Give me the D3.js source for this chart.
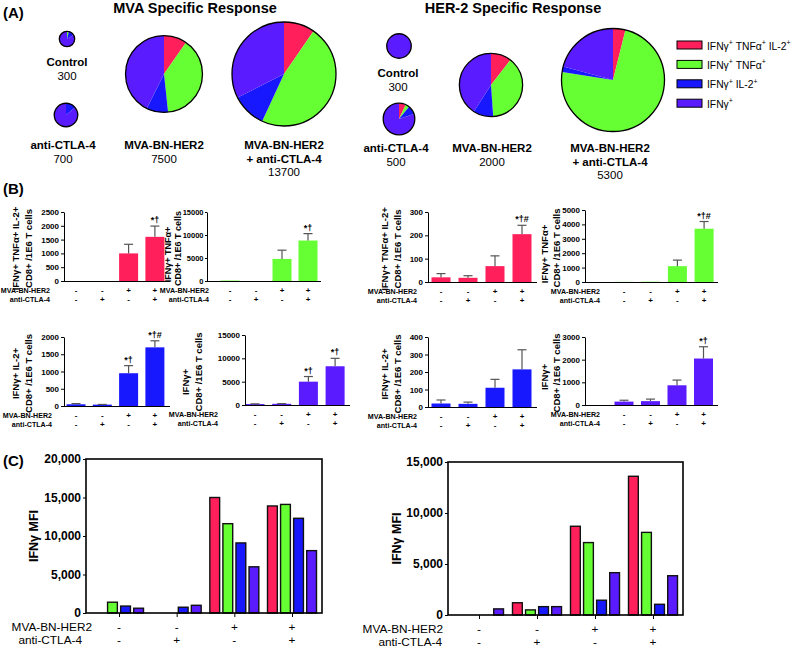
<!DOCTYPE html>
<html><head><meta charset="utf-8">
<script src="https://cdn.jsdelivr.net/npm/d3@7"></script>
<style>
body{margin:0;background:#fff}
svg{display:block}
text{font-family:"Liberation Sans",Arial,sans-serif}
</style>
</head><body>
<svg id="chart" width="793" height="650"></svg>
<script>
// ---------------- DATA ----------------
const seriesNames = ["IFNγ+ TNFα+ IL-2+", "IFNγ+ TNFα+", "IFNγ+ IL-2+", "IFNγ+"];
const seriesColors = ["#ff1f5a", "#66ff33", "#1818ff", "#5a1bff"];

// Panel A (pie shares in %, order = seriesNames)
const pieLabels = [["Control"], ["anti-CTLA-4"], ["MVA-BN-HER2"], ["MVA-BN-HER2", "+ anti-CTLA-4"]];
const mvaTotals = [300, 700, 7500, 13700];
const mvaShares = [[0, 4, 12, 84], [0, 0, 14, 86], [9.7, 38.6, 9.1, 42.6], [9.6, 47.3, 10.6, 32.5]];
const herTotals = [300, 500, 2000, 5300];
const herShares = [[0, 0, 0, 100], [7, 4, 9, 80], [10.5, 38.4, 10.2, 40.9], [3.9, 73.6, 1.7, 20.8]];

// Panel B
const mvaRow = ["-", "-", "+", "+"];
const ctlaRow = ["-", "+", "-", "+"];
const bMvaTriple = [0, 0, 1000, 1600];
const bMvaTripleErr = [0, 0, 1330, 1990];
const bMvaTripleSig = ["", "", "", "*†"];
const bMvaTnf = [100, 0, 4800, 8800];
const bMvaTnfErr = [0, 0, 6700, 10300];
const bMvaTnfSig = ["", "", "", "*†"];
const bHerTriple = [20, 18, 68, 205];
const bHerTripleErr = [36, 27, 112, 243];
const bHerTripleSig = ["", "", "", "*†#"];
const bHerTnf = [10, 20, 1100, 3700];
const bHerTnfErr = [0, 0, 1520, 4200];
const bHerTnfSig = ["", "", "", "*†#"];
const bMvaIl2 = [50, 40, 950, 1700];
const bMvaIl2Err = [70, 45, 1170, 1890];
const bMvaIl2Sig = ["", "", "*†", "*†#"];
const bMvaIfn = [200, 250, 5000, 8300];
const bMvaIfnErr = [250, 300, 6100, 10000];
const bMvaIfnSig = ["", "", "*†", "*†"];
const bHerIl2 = [20, 18, 110, 215];
const bHerIl2Err = [40, 28, 158, 327];
const bHerIl2Sig = ["", "", "", ""];
const bHerIfn = [150, 170, 870, 2050];
const bHerIfnErr = [210, 260, 1100, 2570];
const bHerIfnSig = ["", "", "", "*†"];

// Panel C (IFNγ MFI per group, one array per series)
const cMvaTriple = [0, 0, 15000, 13900];
const cMvaTnf = [1400, 0, 11600, 14100];
const cMvaIl2 = [900, 750, 9100, 12300];
const cMvaIfn = [620, 1000, 6000, 8100];
const cHerTriple = [0, 1200, 8700, 13600];
const cHerTnf = [0, 500, 7100, 8100];
const cHerIl2 = [0, 820, 1450, 1050];
const cHerIfn = [600, 820, 4150, 3850];

// ---------------- DRAW ----------------
const svg = d3.select("#chart");
const FONT = '"Liberation Sans",Arial,sans-serif';

function txt(x, y, s, size, weight, anchor) {
  return svg.append("text").attr("x", x).attr("y", y).text(s)
    .attr("font-size", size).attr("font-weight", weight || "normal")
    .attr("text-anchor", anchor || "start").attr("fill", "#000");
}

// Panel letters
txt(3, 18, "(A)", 15, "bold");
txt(3, 194, "(B)", 15, "bold");
txt(3, 466, "(C)", 15, "bold");

// ---- Panel A ----
txt(195, 13, "MVA Specific Response", 14.5, "bold", "middle");
txt(513, 13, "HER-2 Specific Response", 14.5, "bold", "middle");

function drawPie(cx, cy, r, shares) {
  const arcs = d3.pie().sort(null).value(d => d)(shares);
  const arc = d3.arc().innerRadius(0).outerRadius(r);
  const g = svg.append("g").attr("transform", `translate(${cx},${cy})`);
  g.selectAll("path").data(arcs).join("path").attr("d", arc)
    .attr("fill", (d, i) => seriesColors[i]);
  g.append("circle").attr("r", r).attr("fill", "none").attr("stroke", "#000").attr("stroke-width", 1.3);
}
function pieLabel(cx, y, lines, total) {
  lines.forEach((l, i) => txt(cx, y + i * 13.5, l, 11.5, "bold", "middle"));
  txt(cx, y + lines.length * 13.5, d3.format("d")(total), 11.5, "normal", "middle");
}

const rMva = d3.scaleSqrt().domain([0, 13700]).range([0, 52]);
const rHer = d3.scaleSqrt().domain([0, 5300]).range([0, 51.5]);
const mvaPos = [[67, 39, 67, 66], [66, 115, 63, 149], [164, 74, 164, 149], [284, 74, 284, 149]];
const herPos = [[399, 46, 398, 77], [399, 119, 396, 152], [491, 85, 492, 152], [613, 80, 610, 152]];
mvaTotals.forEach((t, i) => {
  const p = mvaPos[i];
  drawPie(p[0], p[1], rMva(t), mvaShares[i]);
  pieLabel(p[2], p[3], pieLabels[i], t);
});
herTotals.forEach((t, i) => {
  const p = herPos[i];
  drawPie(p[0], p[1], rHer(t), herShares[i]);
  pieLabel(p[2], p[3], pieLabels[i], t);
});

// Legend
function supText(sel, name, supSize) {
  const parts = name.split(/(\+)/).filter(s => s.length);
  let up = false;
  parts.forEach(pt => {
    const t = sel.append("tspan").text(pt);
    if (pt === "+") { t.attr("font-size", supSize).attr("dy", -4.5); up = true; }
    else if (up) { t.attr("dy", 4.5); up = false; }
  });
}
seriesNames.forEach((n, i) => {
  const y = 41 + i * 19.4;
  svg.append("rect").attr("x", 677).attr("y", y).attr("width", 25).attr("height", 8)
    .attr("fill", seriesColors[i]).attr("stroke", "#000").attr("stroke-width", 1);
  const t = txt(707, y + 8.5, "", 10.3, "normal");
  supText(t, n, 7);
});

// ---- Panel B ----
function barPanel(p, values, errs, sigs, color, yLines, yMax, yStep) {
  const y = d3.scaleLinear().domain([0, yMax]).range([p.bottom, p.top]);
  const x = d3.scalePoint().domain(d3.range(values.length)).range([p.first, p.first + (values.length - 1) * p.step]);
  const g = svg.append("g");
  const bw = 19;
  g.selectAll("rect.bar").data(values).join("rect").attr("class", "bar")
    .attr("x", (d, i) => x(i) - bw / 2).attr("y", d => y(d))
    .attr("width", bw).attr("height", d => p.bottom - y(d)).attr("fill", color);
  values.forEach((v, i) => {
    const e = errs[i];
    if (e > v) {
      g.append("line").attr("x1", x(i)).attr("x2", x(i)).attr("y1", y(v)).attr("y2", y(e))
        .attr("stroke", "#555").attr("stroke-width", 1.2);
      g.append("line").attr("x1", x(i) - 4.5).attr("x2", x(i) + 4.5).attr("y1", y(e)).attr("y2", y(e))
        .attr("stroke", "#555").attr("stroke-width", 1.2);
    }
    if (sigs[i]) {
      g.append("text").attr("x", x(i)).attr("y", y(Math.max(e, v)) - 3).attr("text-anchor", "middle")
        .attr("font-size", 9).attr("font-weight", "bold").attr("font-family", FONT).text(sigs[i]);
    }
  });
  const ax = g.append("g").attr("transform", `translate(${p.axisX},0)`)
    .call(d3.axisLeft(y).tickValues(d3.range(0, yMax + 0.1, yStep)).tickFormat(d3.format("d"))
      .tickSize(p.tickSize || 3).tickSizeOuter(0).tickPadding(p.tickPad || 2));
  ax.selectAll("text").attr("font-size", p.tickFont || 8).attr("font-weight", "bold").attr("font-family", FONT);
  ax.select(".domain").attr("stroke-width", 1);
  g.append("line").attr("x1", p.axisX).attr("x2", p.end).attr("y1", p.bottom + 0.5).attr("y2", p.bottom + 0.5)
    .attr("stroke", "#000").attr("stroke-width", 1);
  // x labels
  const ly1 = p.bottom + 11.5, ly2 = p.bottom + 21;
  g.append("text").attr("x", p.labelEnd).attr("y", ly1).attr("text-anchor", "end").attr("font-size", 7.1)
    .attr("font-weight", "bold").text("MVA-BN-HER2");
  g.append("text").attr("x", p.labelEnd).attr("y", ly2).attr("text-anchor", "end").attr("font-size", 7.1)
    .attr("font-weight", "bold").text("anti-CTLA-4");
  mvaRow.forEach((s, i) => g.append("text").attr("x", x(i)).attr("y", ly1).attr("text-anchor", "middle")
    .attr("font-size", 8).attr("font-weight", "bold").text(s));
  ctlaRow.forEach((s, i) => g.append("text").attr("x", x(i)).attr("y", ly2).attr("text-anchor", "middle")
    .attr("font-size", 8).attr("font-weight", "bold").text(s));
  // y label (two rotated lines)
  const cy = (p.top + p.bottom) / 2 + 2;
  const gap = p.lineGap || 12.5;
  yLines.forEach((l, i) => {
    g.append("text").attr("transform", `translate(${p.axisX - p.ylOff + i * gap},${cy + (i === 0 ? p.l1dy || 0 : 0)}) rotate(-90)`)
      .attr("text-anchor", "middle").attr("font-size", p.ylFont || 9.5).attr("font-weight", "bold").text(l);
  });
}

const cellLabel = "CD8+ /1E6 T cells";
barPanel({axisX: 64, end: 170, first: 76, step: 26.3, top: 212, bottom: 281, labelEnd: 50, ylOff: 45},
  bMvaTriple, bMvaTripleErr, bMvaTripleSig, seriesColors[0], [seriesNames[0], cellLabel], 2500, 500);
barPanel({axisX: 207, end: 321, first: 230, step: 26, top: 212, bottom: 281, labelEnd: 209, ylOff: 36, lineGap: 10, l1dy: 6, tickFont: 7.5, tickPad: 1.5, tickSize: 2, ylFont: 9},
  bMvaTnf, bMvaTnfErr, bMvaTnfSig, seriesColors[1], [seriesNames[1], cellLabel], 15000, 5000);
barPanel({axisX: 428, end: 537, first: 441, step: 27, top: 212, bottom: 282, labelEnd: 417, ylOff: 40},
  bHerTriple, bHerTripleErr, bHerTripleSig, seriesColors[0], [seriesNames[0], cellLabel], 300, 100);
barPanel({axisX: 585, end: 718, first: 624, step: 26.7, top: 210, bottom: 282, labelEnd: 600, ylOff: 37.5, l1dy: 6},
  bHerTnf, bHerTnfErr, bHerTnfSig, seriesColors[1], [seriesNames[1], cellLabel], 5000, 1000);
barPanel({axisX: 64, end: 170, first: 76, step: 26.3, top: 337, bottom: 406, labelEnd: 52, ylOff: 45},
  bMvaIl2, bMvaIl2Err, bMvaIl2Sig, seriesColors[2], [seriesNames[2], cellLabel], 2000, 500);
barPanel({axisX: 245, end: 350, first: 255, step: 26.7, top: 335, bottom: 405, labelEnd: 218, ylOff: 56, l1dy: 10},
  bMvaIfn, bMvaIfnErr, bMvaIfnSig, seriesColors[3], [seriesNames[3], cellLabel], 15000, 5000);
barPanel({axisX: 428, end: 537, first: 441, step: 27, top: 337, bottom: 407, labelEnd: 417, ylOff: 40},
  bHerIl2, bHerIl2Err, bHerIl2Sig, seriesColors[2], [seriesNames[2], cellLabel], 400, 100);
barPanel({axisX: 585, end: 718, first: 624, step: 26.5, top: 337, bottom: 405, labelEnd: 600, ylOff: 37.5, l1dy: 4},
  bHerIfn, bHerIfnErr, bHerIfnSig, seriesColors[3], [seriesNames[3], cellLabel], 3000, 1000);

// ---- Panel C ----
function groupedPanel(p, series, yMax, yStep) {
  const y = d3.scaleLinear().domain([0, yMax]).range([p.bottom, p.top]);
  const x = d3.scalePoint().domain(d3.range(4)).range([p.first, p.last]);
  const inner = d3.scaleBand().domain(d3.range(series.length)).range([-24.5, 24.5]).paddingInner(0.25);
  const g = svg.append("g");
  series.forEach((vals, s) => {
    g.selectAll(null).data(vals).join("rect")
      .attr("x", (d, i) => x(i) + inner(s)).attr("y", d => y(d))
      .attr("width", inner.bandwidth()).attr("height", d => p.bottom - y(d))
      .attr("fill", seriesColors[s]).attr("stroke", d => d > 0 ? "#111" : "none").attr("stroke-width", 1.4);
  });
  g.append("rect").attr("x", p.left).attr("y", p.top).attr("width", p.right - p.left).attr("height", p.bottom - p.top)
    .attr("fill", "none").attr("stroke", "#000").attr("stroke-width", 1.6);
  const ax = g.append("g").attr("transform", `translate(${p.left},0)`)
    .call(d3.axisLeft(y).tickValues(d3.range(0, yMax + 1, yStep)).tickFormat(d3.format(",")).tickSize(3).tickSizeOuter(0).tickPadding(2));
  ax.selectAll("text").attr("font-size", 12).attr("font-weight", "bold").attr("font-family", FONT);
  ax.select(".domain").remove();
  const bx = g.append("g").attr("transform", `translate(0,${p.bottom})`)
    .call(d3.axisBottom(x).tickSize(4).tickFormat(""));
  bx.select(".domain").remove();
  const fs = 11.8;
  g.append("text").attr("x", p.labelEnd1).attr("y", p.bottom + 18).attr("text-anchor", "end").attr("font-size", fs).text("MVA-BN-HER2");
  g.append("text").attr("x", p.labelEnd2).attr("y", p.bottom + 31).attr("text-anchor", "end").attr("font-size", fs).text("anti-CTLA-4");
  mvaRow.forEach((s, i) => g.append("text").attr("x", x(i)).attr("y", p.bottom + 18).attr("text-anchor", "middle").attr("font-size", fs).text(s));
  ctlaRow.forEach((s, i) => g.append("text").attr("x", x(i)).attr("y", p.bottom + 31).attr("text-anchor", "middle").attr("font-size", fs).text(s));
  g.append("text").attr("transform", `translate(${p.ylX},${(p.top + p.bottom) / 2}) rotate(-90)`)
    .attr("text-anchor", "middle").attr("font-size", 12.5).attr("font-weight", "bold").text("IFNγ MFI");
}
groupedPanel({left: 86, right: 322, top: 459, bottom: 613, first: 119, last: 292, labelEnd1: 92, labelEnd2: 82, ylX: 38},
  [cMvaTriple, cMvaTnf, cMvaIl2, cMvaIfn], 20000, 5000);
groupedPanel({left: 448, right: 683, top: 462, bottom: 615, first: 479, last: 653, labelEnd1: 443, labelEnd2: 442, ylX: 401},
  [cHerTriple, cHerTnf, cHerIl2, cHerIfn], 15000, 5000);
</script>
</body></html>
